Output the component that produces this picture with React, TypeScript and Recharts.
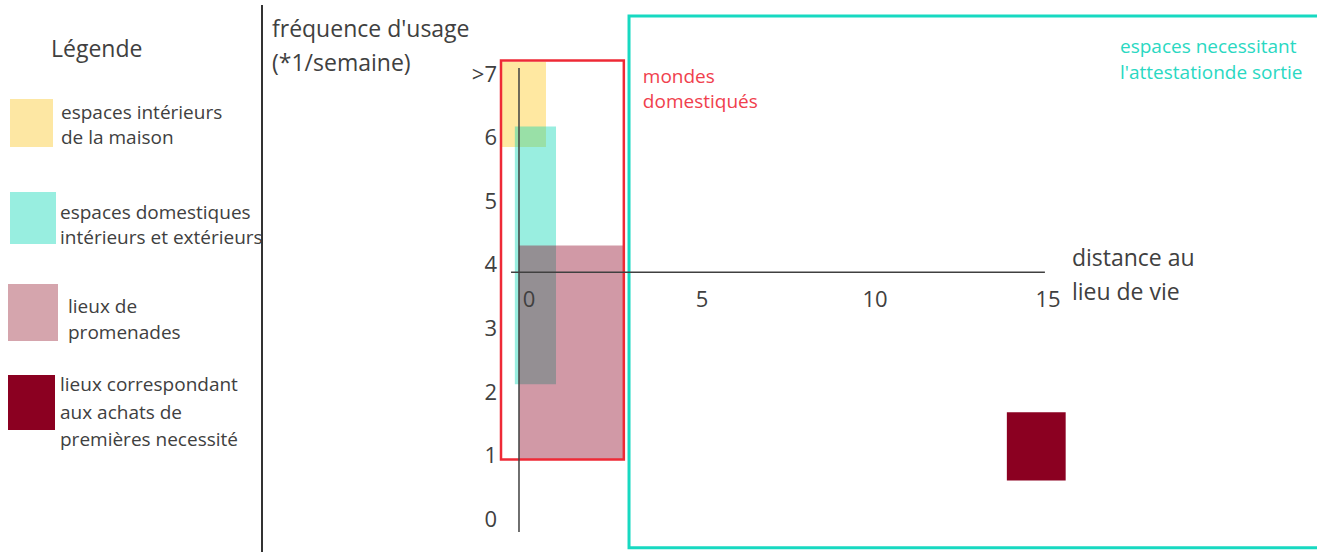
import React from 'react'
import { ComposedChart, XAxis, YAxis, ReferenceArea, ReferenceLine } from 'recharts'

// zones d'usage : distance au lieu de vie (x) / fréquence par semaine (y)
const zoneNames = [
  'espaces intérieurs de la maison',
  'espaces domestiques intérieurs et extérieurs',
  'lieux de promenades',
  'lieux correspondant aux achats de premières necessité',
]
const zoneXStart = [-0.49, -0.12, 0, 14.1]
const zoneXEnd = [0.78, 1.07, 3.03, 15.8]
const zoneYLow = [5.83, 2.1, 0.92, 0.59]
const zoneYHigh = [7.17, 6.15, 4.28, 1.66]
const zoneColors = ['#FFC000', '#00D4B2', '#8B0021', '#8B0021']
const zoneOpacity = [0.37, 0.4, 0.4, 1]

// cadres
const frameNames = ['mondes domestiqués', "espaces necessitant l'attestationde sortie"]
const frameXStart = [-0.52, 3.18]
const frameXEnd = [3.03, 24]
const frameYLow = [0.92, -0.47]
const frameYHigh = [7.19, 7.89]

const xTicks = [0, 5, 10, 15]
const yTicks = [0, 1, 2, 3, 4, 5, 6, 7]

const X_DOMAIN: [number, number] = [-0.549, 23.064]
const Y_DOMAIN: [number, number] = [-0.52, 8.14]
const X_AXIS_Y = 3.86
const CHART_W = 1317
const CHART_H = 552
const PLOT_H = CHART_H - 1
const FONT = '"Open Sans", sans-serif'
const TEXT = '#404040'

const legendItems = [
  { swatch: '#fde7a3', lines: ['espaces intérieurs', 'de la maison'], box: [10, 99, 43, 48], text: [61, 100, 25] },
  { swatch: '#98eee0', lines: ['espaces domestiques', 'intérieurs et extérieurs'], box: [10, 192, 46, 52], text: [60, 200, 25] },
  { swatch: '#d5a5ad', lines: ['lieux de', 'promenades'], box: [8, 284, 50, 57], text: [68, 293, 26] },
  { swatch: '#8b0021', lines: ['lieux correspondant', 'aux achats de', 'premières necessité'], box: [8, 375, 47, 55], text: [60, 371, 27.5] },
]

const yToPx = (v: number) => ((Y_DOMAIN[1] - v) / (Y_DOMAIN[1] - Y_DOMAIN[0])) * PLOT_H

function YTick(props: any) {
  const { x, y, payload } = props
  return (
    <text x={x + 5} y={y} textAnchor="end" dominantBaseline="central" fontSize={22} fill={TEXT} fontFamily={FONT}>
      {payload.value === 7 ? '>7' : payload.value}
    </text>
  )
}

function XTick(props: any) {
  const { x, payload } = props
  return (
    <text x={x + 10} y={yToPx(X_AXIS_Y) + 26} textAnchor="middle" dominantBaseline="central" fontSize={22} fill={TEXT} fontFamily={FONT}>
      {payload.value}
    </text>
  )
}

export default function App() {
  return (
    <div style={{ position: 'absolute', left: 0, top: 0, width: CHART_W, height: CHART_H, background: '#fff', fontFamily: FONT, color: TEXT }}>
      {/* Légende */}
      <div style={{ position: 'absolute', left: 51, top: 34, fontSize: 23, lineHeight: '28px' }}>Légende</div>
      {legendItems.map((item) => (
        <React.Fragment key={item.lines[0]}>
          <div
            style={{
              position: 'absolute',
              left: item.box[0],
              top: item.box[1],
              width: item.box[2],
              height: item.box[3],
              background: item.swatch,
            }}
          />
          <div style={{ position: 'absolute', left: item.text[0], top: item.text[1], fontSize: 19, lineHeight: `${item.text[2]}px`, whiteSpace: 'nowrap' }}>
            {item.lines.map((l) => (
              <div key={l}>{l}</div>
            ))}
          </div>
        </React.Fragment>
      ))}
      <div style={{ position: 'absolute', left: 261, top: 5, width: 2, height: 547, background: '#333' }} />

      <div style={{ position: 'absolute', left: 272, top: 11, fontSize: 23, lineHeight: '34px', whiteSpace: 'nowrap' }}>
        <div>fréquence d'usage</div>
        <div>(*1/semaine)</div>
      </div>

      <div style={{ position: 'absolute', left: 0, top: 0 }}>
        <ComposedChart width={CHART_W} height={CHART_H} margin={{ top: 0, right: 0, bottom: 0, left: 440 }}>
          <XAxis
            type="number"
            dataKey="x"
            domain={X_DOMAIN}
            ticks={xTicks}
            allowDataOverflow
            axisLine={false}
            tickLine={false}
            height={1}
            interval={0}
            tick={<XTick />}
          />
          <YAxis
            type="number"
            dataKey="y"
            domain={Y_DOMAIN}
            ticks={yTicks}
            allowDataOverflow
            axisLine={false}
            tickLine={false}
            width={60}
            interval={0}
            tick={<YTick />}
          />

          {zoneNames.map((name, i) => (
            <ReferenceArea
              key={name}
              x1={zoneXStart[i]}
              x2={zoneXEnd[i]}
              y1={zoneYLow[i]}
              y2={zoneYHigh[i]}
              fill={zoneColors[i]}
              fillOpacity={zoneOpacity[i]}
              stroke="none"
              ifOverflow="visible"
            />
          ))}

          <ReferenceArea
            key={frameNames[0]}
            x1={frameXStart[0]}
            x2={frameXEnd[0]}
            y1={frameYLow[0]}
            y2={frameYHigh[0]}
            fill="none"
            stroke="#EE2A36"
            strokeWidth={2.5}
            ifOverflow="visible"
            label={(p: any) => (
              <g fontFamily={FONT} fontSize={19} fill="#F0404D">
                <text x={p.viewBox.x + p.viewBox.width + 19} y={p.viewBox.y + 16} dominantBaseline="central">mondes</text>
                <text x={p.viewBox.x + p.viewBox.width + 19} y={p.viewBox.y + 41} dominantBaseline="central">domestiqués</text>
              </g>
            )}
          />
          <ReferenceArea
            key={frameNames[1]}
            x1={frameXStart[1]}
            x2={frameXEnd[1]}
            y1={frameYLow[1]}
            y2={frameYHigh[1]}
            fill="none"
            stroke="#17D9C1"
            strokeWidth={3}
            ifOverflow="visible"
            label={(p: any) => (
              <g fontFamily={FONT} fontSize={19} fill="#2AD8C2">
                <text x={p.viewBox.x + 491} y={p.viewBox.y + 30} dominantBaseline="central">espaces necessitant</text>
                <text x={p.viewBox.x + 491} y={p.viewBox.y + 56} dominantBaseline="central">l'attestationde sortie</text>
              </g>
            )}
          />

          {/* axes dessinés à la main */}
          <ReferenceLine
            segment={[{ x: 0, y: 7.07 }, { x: 0, y: -0.22 }]}
            stroke="#404040"
            strokeWidth={1.5}
            ifOverflow="visible"
          />
          <ReferenceLine
            segment={[{ x: -0.23, y: X_AXIS_Y }, { x: 15.2, y: X_AXIS_Y }]}
            stroke="#404040"
            strokeWidth={1.5}
            ifOverflow="visible"
            label={(p: any) => (
              <g fontFamily={FONT} fontSize={23} fill={TEXT}>
                <text x={p.viewBox.x + p.viewBox.width + 27} y={p.viewBox.y - 15} dominantBaseline="central">distance au</text>
                <text x={p.viewBox.x + p.viewBox.width + 27} y={p.viewBox.y + 19} dominantBaseline="central">lieu de vie</text>
              </g>
            )}
          />
        </ComposedChart>
      </div>
    </div>
  )
}
